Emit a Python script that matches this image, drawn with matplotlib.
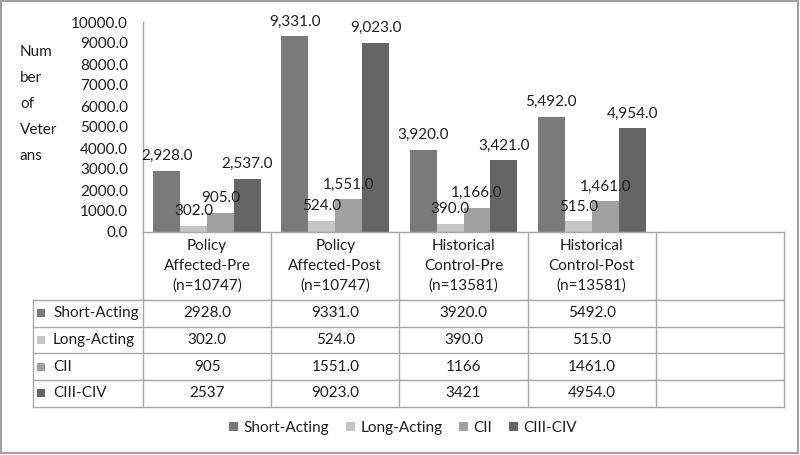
import numpy as np
import matplotlib
matplotlib.use('Agg')
import matplotlib.pyplot as plt
from matplotlib.patches import Patch, Rectangle

plt.rcParams['font.family'] = ['Lato', 'DejaVu Sans']

# data
groups = ['Policy\nAffected-Pre\n(n=10747)', 'Policy\nAffected-Post\n(n=10747)',
          'Historical\nControl-Pre\n(n=13581)', 'Historical\nControl-Post\n(n=13581)', '']
series = ['Short-Acting', 'Long-Acting', 'CII', 'CIII-CIV']
short_acting = [2928, 9331, 3920, 5492]
long_acting = [302, 524, 390, 515]
cii = [905, 1551, 1166, 1461]
ciii_civ = [2537, 9023, 3421, 4954]
values = [short_acting, long_acting, cii, ciii_civ]
# cells the table prints without the ".0"
no_decimal = [(2, 0), (2, 2), (3, 0), (3, 2)]
yticks = np.arange(0, 10001, 1000)

colors = ['#7a7a7a', '#c4c4c4', '#a0a0a0', '#656565']
txt = '#1e1e1e'
grid = '#a8a8a8'
fs = 11

W, H = 800, 455
fig = plt.figure(figsize=(8, 4.55), dpi=100)

# pixel overlay for table, labels and border
ov = fig.add_axes([0, 0, 1, 1])
ov.set_xlim(0, W)
ov.set_ylim(H, 0)
ov.axis('off')

ax_l, ax_r, ax_t, ax_b = 143, 784, 22, 232
ax = fig.add_axes([ax_l / W, 1 - ax_b / H, (ax_r - ax_l) / W, (ax_b - ax_t) / H])
ax.patch.set_alpha(0)

n_slots = len(groups)
bw = 0.21
for s, (name, vals) in enumerate(zip(series, values)):
    xs = np.arange(len(vals)) + 0.5 + (s - 1.5) * bw
    ax.bar(xs, vals, width=bw, color=colors[s], label=name, zorder=2)
    for x, v in zip(xs, vals):
        ax.annotate(f'{v:,.1f}', xy=(x, v), xytext=(0, 7.6), textcoords='offset points',
                    ha='center', va='baseline', fontsize=fs, color=txt, zorder=3)

ax.set_xlim(0, n_slots)
ax.set_ylim(0, 10000)
ax.set_yticks(yticks)
ax.set_yticklabels([f'{t:.1f}' for t in yticks])
ax.set_xticks([])
ax.tick_params(axis='y', length=0, pad=10.8, labelsize=fs, labelcolor=txt)
for sp in ['top', 'right']:
    ax.spines[sp].set_visible(False)
for sp in ['left', 'bottom']:
    ax.spines[sp].set_color(grid)
    ax.spines[sp].set_linewidth(1)

# y label
ylab_lines = ['Num', 'ber', 'of', 'Veter', 'ans']
for i, w in enumerate(ylab_lines):
    ov.text(20, 52 + i * 26, w, ha='left', va='center', fontsize=fs, color=txt)

# data table
col_w = (ax_r - ax_l) / n_slots
head_b = 300
row_h = 26.7
tab_l = 33
n_rows = len(series)
tab_b = head_b + n_rows * row_h

for i in range(n_slots + 1):
    x = ax_l + i * col_w
    ov.plot([x, x], [ax_b, tab_b], color=grid, lw=1)
for r in range(n_rows + 1):
    y = head_b + r * row_h
    ov.plot([tab_l, ax_r], [y, y], color=grid, lw=1)
ov.plot([tab_l, tab_l], [head_b, tab_b], color=grid, lw=1)

for c, g in enumerate(groups):
    ov.text(ax_l + (c + 0.5) * col_w, (ax_b + head_b) / 2, g, ha='center', va='center',
            fontsize=fs, color=txt, linespacing=1.5)

for r, (name, vals) in enumerate(zip(series, values)):
    yc = head_b + (r + 0.5) * row_h
    ov.add_patch(Rectangle((37, yc - 4), 8, 8, facecolor=colors[r], edgecolor='none'))
    ov.text(53, yc, name, ha='left', va='center', fontsize=fs, color=txt)
    for c, v in enumerate(vals):
        s = f'{v:d}' if (r, c) in no_decimal else f'{v:.1f}'
        ov.text(ax_l + (c + 0.5) * col_w, yc, s, ha='center', va='center', fontsize=fs, color=txt)

# legend
handles = [Patch(facecolor=c, edgecolor='none') for c in colors]
fig.legend(handles, series, loc='center', bbox_to_anchor=(403 / W, 1 - 428 / H), ncol=4,
           frameon=False, fontsize=fs, handlelength=0.6, handleheight=0.6,
           handletextpad=0.35, columnspacing=1.1, labelcolor=txt)

# outer border
ov.add_patch(Rectangle((1, 1), W - 3, H - 3, facecolor='none', edgecolor='#a0a0a0', lw=1.5))

fig.savefig('out.png', dpi=100)
